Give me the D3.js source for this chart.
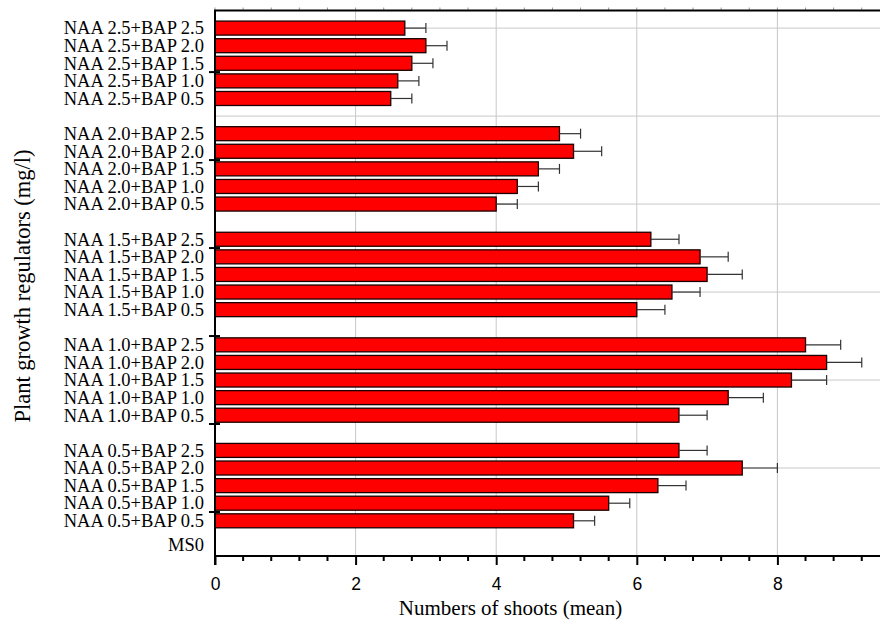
<!DOCTYPE html>
<html>
<head>
<meta charset="utf-8">
<script src="https://cdn.jsdelivr.net/npm/d3@7"></script>
<style>
  body { margin: 0; background: #fff; }
</style>
</head>
<body>
<div id="chart"></div>
<script>
// treatments, top to bottom as shown
const treatments = [
  "NAA 2.5+BAP 2.5", "NAA 2.5+BAP 2.0", "NAA 2.5+BAP 1.5", "NAA 2.5+BAP 1.0", "NAA 2.5+BAP 0.5",
  "NAA 2.0+BAP 2.5", "NAA 2.0+BAP 2.0", "NAA 2.0+BAP 1.5", "NAA 2.0+BAP 1.0", "NAA 2.0+BAP 0.5",
  "NAA 1.5+BAP 2.5", "NAA 1.5+BAP 2.0", "NAA 1.5+BAP 1.5", "NAA 1.5+BAP 1.0", "NAA 1.5+BAP 0.5",
  "NAA 1.0+BAP 2.5", "NAA 1.0+BAP 2.0", "NAA 1.0+BAP 1.5", "NAA 1.0+BAP 1.0", "NAA 1.0+BAP 0.5",
  "NAA 0.5+BAP 2.5", "NAA 0.5+BAP 2.0", "NAA 0.5+BAP 1.5", "NAA 0.5+BAP 1.0", "NAA 0.5+BAP 0.5",
  "MS0"
];
// position on the category axis (one slot per row, empty slot between groups)
const slots = [
  30, 29, 28, 27, 26,
  24, 23, 22, 21, 20,
  18, 17, 16, 15, 14,
  12, 11, 10, 9, 8,
  6, 5, 4, 3, 2,
  0.65
];
const meanShoots = [
  2.7, 3.0, 2.8, 2.6, 2.5,
  4.9, 5.1, 4.6, 4.3, 4.0,
  6.2, 6.9, 7.0, 6.5, 6.0,
  8.4, 8.7, 8.2, 7.3, 6.6,
  6.6, 7.5, 6.3, 5.6, 5.1,
  0
];
const errShoots = [
  0.3, 0.3, 0.3, 0.3, 0.3,
  0.3, 0.4, 0.3, 0.3, 0.3,
  0.4, 0.4, 0.5, 0.4, 0.4,
  0.5, 0.5, 0.5, 0.5, 0.4,
  0.4, 0.5, 0.4, 0.3, 0.3,
  0
];
const xMajorTicks = [0, 2, 4, 6, 8];
const yGridSlots = [5, 10, 15, 20, 25, 30];
const yTickSlots = [2.5, 7.5, 12.5, 17.5, 22.5, 27.5];

const data = treatments.map((t, i) => ({
  name: t, slot: slots[i], mean: meanShoots[i], err: errShoots[i]
}));

const width = 880, height = 623;
const margin = { top: 10.5, bottom: 67, left: 215 };

const svg = d3.select("#chart")
  .append("svg")
  .attr("width", width)
  .attr("height", height);

const x = d3.scaleLinear()
  .domain([0, 9.5])
  .range([margin.left, margin.left + 9.5 * 70.3]);

const y = d3.scaleLinear()
  .domain([0, 31])
  .range([height - margin.bottom, margin.top]);

const x0 = x(0), yBottom = y(0), yTop = y(31);
const barH = 14;

// --- GRID ---
svg.append("g")
  .selectAll("line")
  .data(xMajorTicks.filter(d => d > 0))
  .enter()
  .append("line")
  .attr("x1", d => x(d)).attr("x2", d => x(d))
  .attr("y1", yTop).attr("y2", yBottom)
  .attr("stroke", "#c8c8c8")
  .attr("stroke-width", 1);

svg.append("g")
  .selectAll("line")
  .data(yGridSlots)
  .enter()
  .append("line")
  .attr("x1", x0).attr("x2", width)
  .attr("y1", d => y(d)).attr("y2", d => y(d))
  .attr("stroke", "#c8c8c8")
  .attr("stroke-width", 1);

// --- BARS ---
const bars = data.filter(d => d.mean > 0);

svg.append("g")
  .selectAll("rect")
  .data(bars)
  .enter()
  .append("rect")
  .attr("x", x0)
  .attr("y", d => y(d.slot) - barH / 2)
  .attr("width", d => x(d.mean) - x0)
  .attr("height", barH)
  .attr("fill", "#ff0000")
  .attr("stroke", "#1a0000")
  .attr("stroke-width", 1.3);

// --- ERROR BARS ---
const eb = svg.append("g")
  .attr("stroke", "#333")
  .attr("stroke-width", 1.2);

eb.selectAll(".whisker")
  .data(bars)
  .enter()
  .append("line")
  .attr("x1", d => x(d.mean))
  .attr("x2", d => x(d.mean + d.err))
  .attr("y1", d => y(d.slot)).attr("y2", d => y(d.slot));

eb.selectAll(".cap")
  .data(bars)
  .enter()
  .append("line")
  .attr("x1", d => x(d.mean + d.err))
  .attr("x2", d => x(d.mean + d.err))
  .attr("y1", d => y(d.slot) - 5).attr("y2", d => y(d.slot) + 5);

// --- AXES ---
const minorTicks = d3.range(0, 9.5, 0.4).filter(v => Math.abs(v / 2 - Math.round(v / 2)) > 0.01);

// bottom axis
const bottom = svg.append("g")
  .attr("transform", `translate(0,${yBottom})`)
  .call(d3.axisBottom(x).tickValues(xMajorTicks).tickSize(9).tickFormat(d3.format("d")));
bottom.select(".domain").remove();
bottom.selectAll(".tick line").attr("stroke", "#000").attr("stroke-width", 2);
bottom.selectAll(".tick text")
  .attr("dy", "0")
  .attr("y", 34)
  .style("font-family", "'Liberation Sans', Arial, sans-serif")
  .style("font-size", "17.5px")
  .style("fill", "#000");

svg.append("g")
  .selectAll("line")
  .data(minorTicks)
  .enter()
  .append("line")
  .attr("x1", d => x(d)).attr("x2", d => x(d))
  .attr("y1", yBottom).attr("y2", yBottom + 5)
  .attr("stroke", "#000")
  .attr("stroke-width", 2);

// top axis small ticks
svg.append("g")
  .selectAll("line")
  .data(minorTicks.concat(xMajorTicks))
  .enter()
  .append("line")
  .attr("x1", d => x(d)).attr("x2", d => x(d))
  .attr("y1", yTop - 3).attr("y2", yTop)
  .attr("stroke", "#999")
  .attr("stroke-width", 1);

// frame lines
svg.append("line")
  .attr("x1", x0 - 1).attr("x2", width)
  .attr("y1", yBottom).attr("y2", yBottom)
  .attr("stroke", "#000").attr("stroke-width", 2);
svg.append("line")
  .attr("x1", x0 - 1).attr("x2", width)
  .attr("y1", yTop).attr("y2", yTop)
  .attr("stroke", "#000").attr("stroke-width", 2);
svg.append("line")
  .attr("x1", x0).attr("x2", x0)
  .attr("y1", yTop).attr("y2", yBottom + 9)
  .attr("stroke", "#000").attr("stroke-width", 2);

// left axis ticks (in and out)
svg.append("g")
  .selectAll("line")
  .data(yTickSlots)
  .enter()
  .append("line")
  .attr("x1", x0 - 6).attr("x2", x0 + 5)
  .attr("y1", d => y(d)).attr("y2", d => y(d))
  .attr("stroke", "#000")
  .attr("stroke-width", 2);

// category labels
svg.append("g")
  .selectAll("text")
  .data(data)
  .enter()
  .append("text")
  .attr("x", x0 - 11)
  .attr("y", d => y(d.slot))
  .attr("dy", "0.34em")
  .attr("text-anchor", "end")
  .style("font-family", "'Liberation Serif', 'Times New Roman', serif")
  .style("font-size", "18.5px")
  .style("fill", "#000")
  .text(d => d.name);

// --- AXIS TITLES ---
svg.append("text")
  .attr("x", (x0 + 806) / 2)
  .attr("y", 615)
  .attr("text-anchor", "middle")
  .style("font-family", "'Liberation Serif', 'Times New Roman', serif")
  .style("font-size", "21px")
  .style("fill", "#000")
  .text("Numbers of shoots (mean)");

svg.append("text")
  .attr("transform", "rotate(-90)")
  .attr("x", -286)
  .attr("y", 30)
  .attr("text-anchor", "middle")
  .style("font-family", "'Liberation Serif', 'Times New Roman', serif")
  .style("font-size", "22.5px")
  .style("fill", "#000")
  .text("Plant growth regulators (mg/l)");
</script>
</body>
</html>
